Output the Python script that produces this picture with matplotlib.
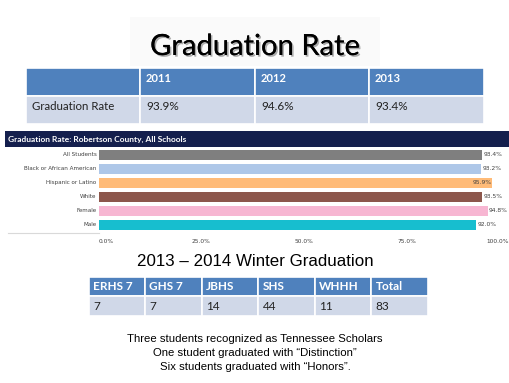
import matplotlib
matplotlib.use('Agg')
import matplotlib.pyplot as plt
import matplotlib.patheffects as pe
from matplotlib.patches import Rectangle

years = ['2011', '2012', '2013']
yearly_rates = ['93.9%', '94.6%', '93.4%']

groups = ['All Students', 'Black or African American', 'Hispanic or Latino',
          'White', 'Female', 'Male']
group_rates = [93.4, 93.2, 95.9, 93.5, 94.8, 92.0]
bar_colors = ['#7f7f7f', '#aec7e8', '#ffbb78', '#8c564b', '#f7b6d2', '#17becf']
ticks = [0, 25, 50, 75, 100]

schools = ['ERHS 7', 'GHS 7', 'JBHS', 'SHS', 'WHHH', 'Total']
winter_counts = [7, 7, 14, 44, 11, 83]

notes = ['Three students recognized as Tennessee Scholars',
         'One student graduated with \u201cDistinction\u201d',
         'Six students graduated with \u201cHonors\u201d.']

HEAD = '#4f81bd'
BODY = '#d0d8e8'
NAVY = '#141f4d'

fig = plt.figure(figsize=(5.1, 3.83), dpi=100)
bg = fig.add_axes([0, 0, 1, 1])
bg.set_xlim(0, 510)
bg.set_ylim(383, 0)
bg.axis('off')

# slide title
bg.add_patch(Rectangle((130, 17), 250, 49, color='#fafafa', lw=0))
bg.text(255, 47, 'Graduation Rate', fontsize=21, family='Lato', ha='center', va='center',
        path_effects=[pe.withSimplePatchShadow(offset=(1.2, -1.2), shadow_rgbFace='#777777', alpha=0.6),
                      pe.Normal()])

# table 1
edges = [26, 140, 255, 369, 484]
for i in range(4):
    x0, x1 = edges[i], edges[i + 1]
    bg.add_patch(Rectangle((x0, 68), x1 - x0, 28, fc=HEAD, ec='white', lw=1.2))
    bg.add_patch(Rectangle((x0, 96), x1 - x0, 28, fc=BODY, ec='white', lw=1.2))
for i, (yr, r) in enumerate(zip(years, yearly_rates)):
    bg.text(edges[i + 1] + 6, 78, yr, color='white', fontsize=8, weight='bold',
            family='Lato', va='center')
    bg.text(edges[i + 1] + 6, 107, r, fontsize=8.5, family='Lato', va='center', color='#222222')
bg.text(edges[0] + 6, 107, 'Graduation Rate', fontsize=8.3, family='Lato', va='center', color='#222222')

# bar chart header
bg.add_patch(Rectangle((5, 131), 505, 16, color=NAVY, lw=0))
bg.text(8, 139.5, 'Graduation Rate: Robertson County, All Schools', color='white',
        fontsize=6.0, weight='bold', family='Lato', va='center')
bg.plot([8, 99], [232.5, 232.5], color='#d9d9d9', lw=0.8)

ax = fig.add_axes([99 / 510, (383 - 232) / 383, 410 / 510, 84 / 383])
ax.barh(range(len(groups)), group_rates, height=0.78, color=bar_colors)
ax.set_xlim(0, 100)
ax.set_ylim(5.5, -0.5)
ax.axis('off')
for i, v in enumerate(group_rates):
    if v > 95:
        ax.text(v - 0.2, i, f'{v:.1f}%', fontsize=4.3, va='center', ha='right', color='#404040')
    else:
        ax.text(v + 0.3, i, f'{v:.1f}%', fontsize=4.3, va='center', ha='left', color='#404040')
    ax.text(-0.6, i, groups[i], fontsize=4.1, va='center', ha='right', color='#404040')
for t in ticks:
    ha = 'left' if t == 0 else ('right' if t == 100 else 'center')
    ax.text(t, 6.2, f'{t:.1f}%', fontsize=4.2, va='center', ha=ha, color='#404040')

# winter graduation
bg.text(255, 261, '2013 \u2013 2014 Winter Graduation', fontsize=12.2,
        family='Liberation Sans', ha='center', va='center')
w_edges = [89, 145.5, 202, 258.5, 315, 371.5, 428]
for i, (s, c) in enumerate(zip(schools, winter_counts)):
    x0, x1 = w_edges[i], w_edges[i + 1]
    bg.add_patch(Rectangle((x0, 277), x1 - x0, 19, fc=HEAD, ec='white', lw=1.2))
    bg.add_patch(Rectangle((x0, 296), x1 - x0, 20, fc=BODY, ec='white', lw=1.2))
    bg.text(x0 + 4, 287, s, color='white', fontsize=8.5, weight='bold', family='Lato', va='center')
    bg.text(x0 + 4, 307, str(c), fontsize=8.5, family='Lato', va='center', color='#222222')

for k, line in enumerate(notes):
    bg.text(255, 339 + 14 * k, line, fontsize=8.2, family='Liberation Sans',
            ha='center', va='center')

fig.savefig('out.png', dpi=100)
